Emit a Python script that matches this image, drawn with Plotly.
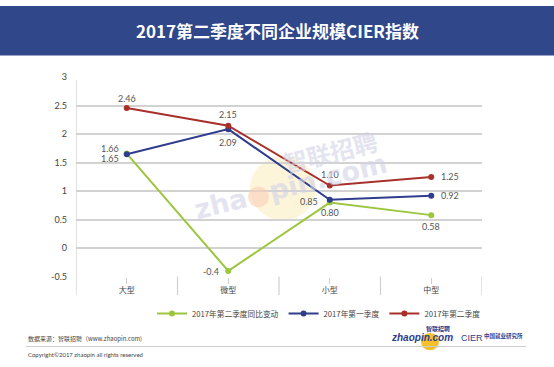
import plotly.graph_objects as go

categories = ["大型", "微型", "小型", "中型"]
yoy_change = [1.66, -0.4, 0.80, 0.58]
q1_2017 = [1.65, 2.09, 0.85, 0.92]
q2_2017 = [2.46, 2.15, 1.10, 1.25]
series_names = ["2017年第二季度同比变动", "2017年第一季度", "2017年第二季度"]
y_ticks = [-0.5, 0, 0.5, 1, 1.5, 2, 2.5, 3]
title_text = "2017第二季度不同企业规模CIER指数"

W, H = 554, 367
def py(px):
    return 1 - px / H

GREEN = "#9cc63e"
BLUE = "#2e3d8c"
RED = "#a8302b"
FONT = "Lato, Noto Sans CJK SC, sans-serif"
CJK = "Noto Sans CJK SC, sans-serif"

fig = go.Figure()
for name, vals, col in [(series_names[0], yoy_change, GREEN),
                        (series_names[1], q1_2017, BLUE),
                        (series_names[2], q2_2017, RED)]:
    fig.add_trace(go.Scatter(x=categories, y=vals, name=name, mode="lines+markers",
                             line=dict(color=col, width=2),
                             marker=dict(color=col, size=6)))

# data labels: (series, index, xanchor, xshift, yshift)
label_spec = [
    (q2_2017, 0, "center", 0, 10),
    (yoy_change, 0, "right", -6, 5),
    (q1_2017, 0, "right", -6, -4),
    (q2_2017, 1, "center", 0, 11),
    (q1_2017, 1, "center", 0, -13),
    (yoy_change, 1, "right", -7, -1),
    (q2_2017, 2, "center", 0, 11),
    (q1_2017, 2, "right", -10, -2),
    (yoy_change, 2, "center", 0, -10),
    (q2_2017, 3, "left", 8, 0),
    (q1_2017, 3, "left", 8, 0),
    (yoy_change, 3, "center", 0, -11),
]
annotations = []
for vals, i, xa, xs, ys in label_spec:
    v = vals[i]
    txt = "-0.4" if v == -0.4 else f"{v:.2f}"
    annotations.append(dict(x=categories[i], y=v, xref="x", yref="y", text=txt,
                            showarrow=False, xanchor=xa, yanchor="middle",
                            xshift=xs, yshift=ys,
                            font=dict(family=FONT, size=9, color="#555555")))

# title
annotations.append(dict(x=0.5, y=py(25), xref="paper", yref="paper", text=f"<b>{title_text}</b>",
                        showarrow=False, xanchor="center", yanchor="middle",
                        font=dict(family=CJK, size=17, color="white")))
# watermark
annotations.append(dict(x=290/W, y=py(186), xref="paper", yref="paper",
                        text="<b>zha<span style='color:#f9cfb8'>●</span>pin.com</b>",
                        showarrow=False, textangle=-14, opacity=0.6,
                        font=dict(family="DejaVu Sans, sans-serif", size=27, color="#d3d3e8")))
annotations.append(dict(x=330/W, y=py(150), xref="paper", yref="paper", text="<b>智联招聘</b>",
                        showarrow=False, textangle=-14, opacity=0.6,
                        font=dict(family=CJK, size=24, color="#d3d3e8")))
# footer
annotations.append(dict(x=26/W, y=py(343), xref="paper", yref="paper",
                        text="数据来源：智联招聘（www.zhaopin.com)", showarrow=False,
                        xanchor="left", yanchor="middle",
                        font=dict(family=CJK, size=6, color="#444444")))
annotations.append(dict(x=26/W, y=py(359), xref="paper", yref="paper",
                        text="Copyright©2017 zhaopin all rights reserved", showarrow=False,
                        xanchor="left", yanchor="middle",
                        font=dict(family=FONT, size=6, color="#444444")))
annotations.append(dict(x=455/W, y=py(342), xref="paper", yref="paper",
                        text="<b><i>zhaopin.com</i></b>", showarrow=False,
                        xanchor="right", yanchor="middle",
                        font=dict(family="Liberation Sans, sans-serif", size=10, color="#2e3d8c")))
annotations.append(dict(x=438/W, y=py(332), xref="paper", yref="paper",
                        text="<b>智联招聘</b>", showarrow=False,
                        xanchor="center", yanchor="middle",
                        font=dict(family=CJK, size=6, color="#2e3d8c")))
annotations.append(dict(x=459/W, y=py(342), xref="paper", yref="paper",
                        text="CIER", showarrow=False, xanchor="left", yanchor="middle",
                        font=dict(family="Liberation Sans Narrow, Liberation Sans, sans-serif", size=9, color="#2e3d8c")))
annotations.append(dict(x=482/W, y=py(340), xref="paper", yref="paper",
                        text="<b>中国就业研究所</b>", showarrow=False, xanchor="left", yanchor="middle",
                        font=dict(family=CJK, size=5.5, color="#2e3d8c")))

shapes = [
    dict(type="rect", xref="paper", yref="paper", x0=0, x1=1, y0=py(51), y1=1,
         fillcolor="#30478a", line=dict(width=0), layer="below"),
    # watermark circle
    dict(type="circle", xref="paper", yref="paper", x0=(283-33)/W, x1=(283+33)/W,
         y0=py(188+33), y1=py(188-33), fillcolor="#fdf3cf", opacity=0.8,
         line=dict(width=0), layer="below"),
    # footer line
    dict(type="line", xref="paper", yref="paper", x0=26/W, x1=526/W, y0=py(351), y1=py(351),
         line=dict(color="#cccccc", width=1)),
    # footer logo circle
    dict(type="circle", xref="paper", yref="paper", x0=(430-9)/W, x1=(430+9)/W,
         y0=py(346+9), y1=py(346-9), fillcolor="#f6c02b", line=dict(width=0), layer="below"),
]
# category separators
for xv in [-0.5, 0.5, 1.5, 2.5, 3.5]:
    top = py(76) if xv == -0.5 else py(279)
    shapes.append(dict(type="line", xref="x", yref="paper", x0=xv, x1=xv,
                       y0=py(298), y1=top, line=dict(color="#cfcfcf", width=1.2)))

fig.update_layout(
    width=W, height=H,
    margin=dict(l=0, r=0, t=0, b=0),
    paper_bgcolor="white", plot_bgcolor="white",
    showlegend=True,
    legend=dict(orientation="h", x=152/W, y=py(317), xanchor="left", yanchor="middle",
                font=dict(family=CJK, size=7.7, color="#444444"), bgcolor="rgba(0,0,0,0)"),
    xaxis=dict(domain=[76/W, 482/W], range=[-0.5, 3.5], showgrid=False, zeroline=False,
               showline=False, ticks="outside", ticklen=6, tickcolor="#cfcfcf",
               tickfont=dict(family=CJK, size=8, color="#444444")),
    yaxis=dict(domain=[py(279), py(73.5)], range=[-0.5, 3], tickvals=y_ticks,
               ticktext=[str(t) for t in y_ticks], showgrid=True, gridcolor="#d2d2d2",
               gridwidth=1.5, zeroline=False, showline=False, ticks="",
               ticklabelstandoff=8,
               tickfont=dict(family=FONT, size=9, color="#444444")),
    annotations=annotations,
    shapes=shapes,
)

fig.write_html("out.html", config={"displayModeBar": False},
               post_script="document.body.style.margin='0px';")
